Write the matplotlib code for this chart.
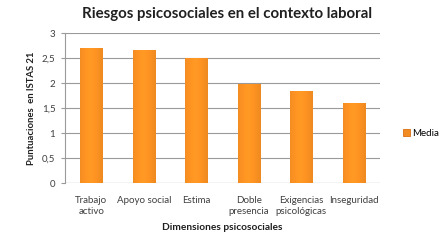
import matplotlib
matplotlib.use("Agg")
import matplotlib.pyplot as plt
import numpy as np

categories = ["Trabajo\nactivo", "Apoyo social", "Estima", "Doble\npresencia", "Exigencias\npsicológicas", "Inseguridad"]
media = [2.70, 2.66, 2.50, 1.98, 1.85, 1.60]
yticks = [0, 0.5, 1, 1.5, 2, 2.5, 3]
ytick_labels = ["0", "0,5", "1", "1,5", "2", "2,5", "3"]

plt.rcParams['font.family'] = ['Lato', 'DejaVu Sans']

fig = plt.figure(figsize=(4.4, 2.45), dpi=100)
ax = fig.add_axes([0.148, 0.253, 0.716, 0.612])

x = np.arange(len(categories))
bars = ax.bar(x, media, width=0.42, color='#F28C22', edgecolor='#D9700E', linewidth=0.6, label='Media', zorder=3)

# gradient shading on bars
grad = np.linspace(0, 1, 64)
shade = 1 - 0.35 * np.abs(grad - 0.45) * 2
cmap_img = np.zeros((1, 64, 3))
base = np.array([0.95, 0.55, 0.13])
for i in range(64):
    cmap_img[0, i] = np.clip(base * (0.8 + 0.3 * shade[i]), 0, 1)
for b in bars:
    bx, by = b.get_x(), b.get_y()
    w, h = b.get_width(), b.get_height()
    im = ax.imshow(cmap_img, extent=[bx, bx + w, by, by + h], aspect='auto', zorder=3.5)
    im.set_clip_path(b)

ax.set_xlim(-0.5, len(categories) - 0.5)
ax.set_ylim(0, 3)
ax.set_yticks(yticks)
ax.set_yticklabels(ytick_labels, fontsize=7, color='#404040')
ax.set_xticks(x)
ax.set_xticklabels(categories, fontsize=7, color='#404040', multialignment='center', linespacing=1.3)
ax.tick_params(axis='x', length=0, pad=9)
ax.tick_params(axis='y', length=3, color='#9a9a9a', pad=4)
ax.yaxis.grid(True, color='#9a9a9a', linewidth=0.8, zorder=0)
for s in ['top', 'right', 'bottom']:
    ax.spines[s].set_visible(False)
ax.spines['left'].set_color('#9a9a9a')
ax.axhline(0, color='#9a9a9a', linewidth=0.8, zorder=2)

ax.set_ylabel("Puntuaciones  en ISTAS 21", fontsize=6.8, fontweight='bold', color='#202020', labelpad=4)
ax.set_xlabel("Dimensiones psicosociales", fontsize=7.3, fontweight='bold', color='#202020', labelpad=5)
fig.suptitle("Riesgos psicosociales en el contexto laboral", fontsize=10.8, fontweight='bold', color='#202020', x=0.515, y=0.97)

ax.legend(loc='center left', bbox_to_anchor=(1.045, 0.333), frameon=False, fontsize=7, handlelength=0.7, handleheight=0.7, handletextpad=0.2)

fig.savefig("out.png", dpi=100, facecolor='white')
